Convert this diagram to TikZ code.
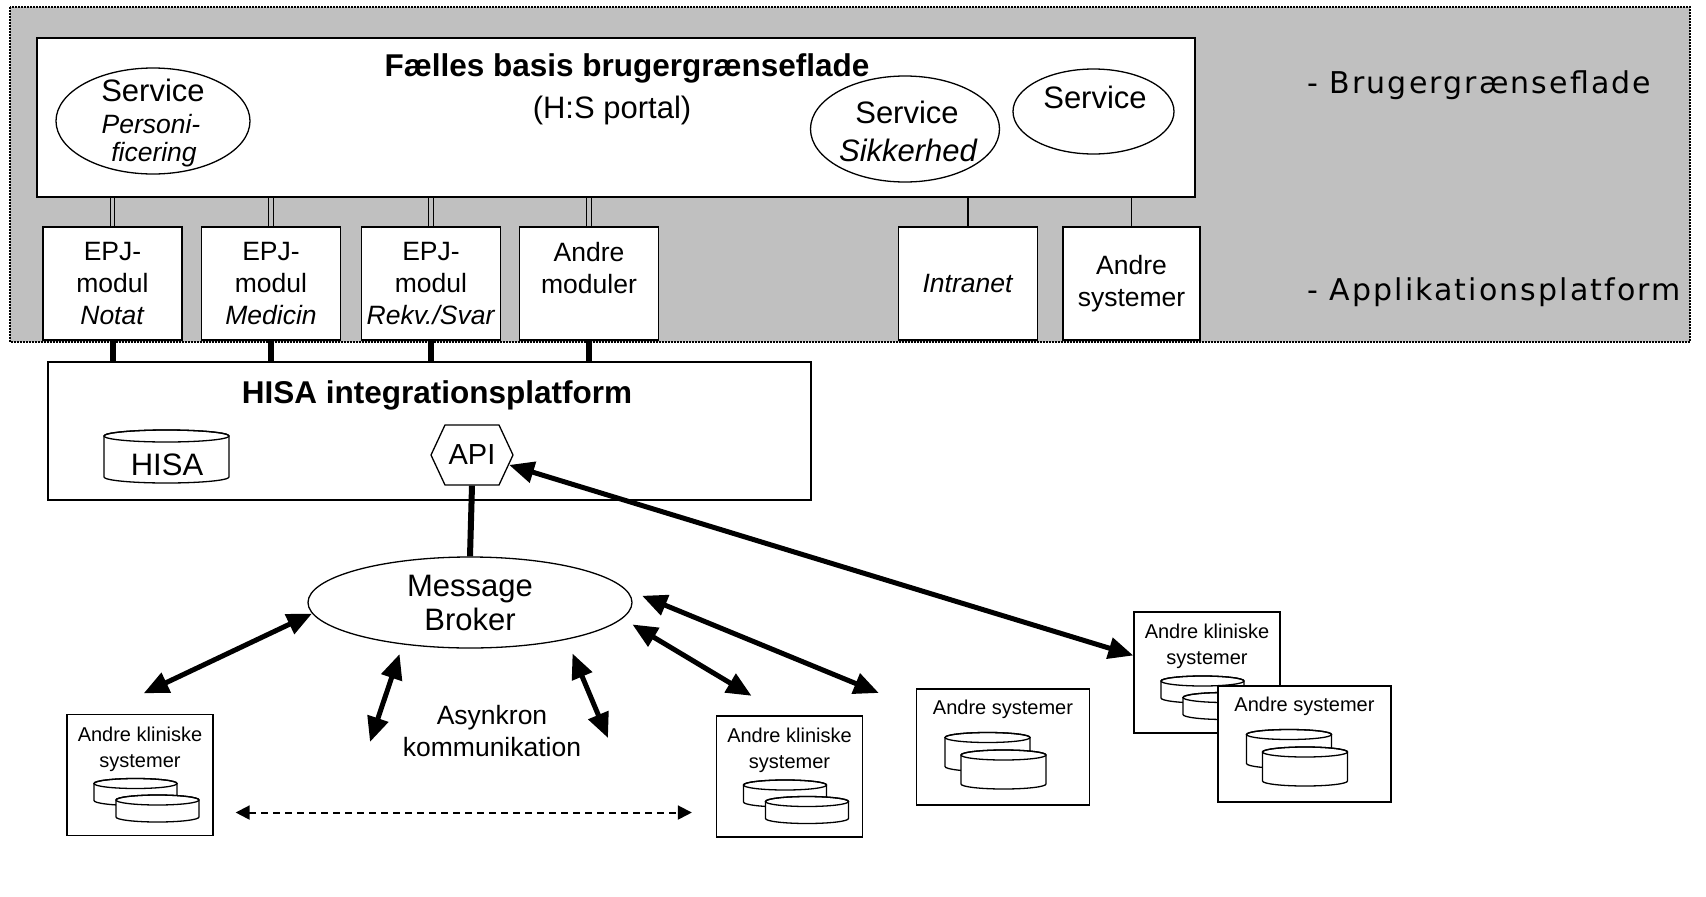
\documentclass[tikz,border=0pt]{standalone}
\usepackage{fontspec}
\setmainfont{Liberation Sans}
\newfontfamily\layerfont[LetterSpace=7]{DejaVu Sans}
\usetikzlibrary{arrows.meta,shapes.geometric,shapes.symbols}
\definecolor{bandgray}{RGB}{192,192,192}

\tikzset{
	fhdr/.style={font=\fontsize{31.5}{37}\selectfont\bfseries},
	fbig/.style={font=\fontsize{31}{34}\selectfont},
	fbigit/.style={font=\fontsize{31}{34}\selectfont\itshape},
	fmid/.style={font=\fontsize{26.5}{32}\selectfont},
	fmidit/.style={font=\fontsize{26.5}{32}\selectfont\itshape},
	fsmall/.style={font=\fontsize{20}{26}\selectfont},
	layer/.style={font=\layerfont\fontsize{30}{36}\selectfont,anchor=base west,inner sep=0pt},
	svc/.style={draw,ellipse,line width=1.3pt,fill=white,inner sep=0pt},
	modbox/.style={draw,line width=1.5pt,fill=white,minimum width=139pt,minimum height=113pt,inner sep=0pt,align=center,fmid},
	sysbox/.style={draw,line width=1.3pt,fill=white,inner sep=0pt},
	dbl/.style={double=bandgray,line width=1.2pt,double distance=3.5pt},
	link/.style={line width=1.3pt},
	bus/.style={line width=6pt},
	bigarr/.style={line width=5pt,{Triangle[length=25pt,width=21pt]}-{Triangle[length=25pt,width=21pt]}},
	dasharr/.style={line width=2pt,dash pattern=on 7pt off 5pt,{Triangle[length=14pt,width=14pt]}-{Triangle[length=14pt,width=14pt]}},
	pics/drum/.style n args={3}{code={
		\draw[fill=white,line width=1.3pt] (-#1/2,-#2/2+#3) -- (-#1/2,#2/2-#3)
			arc[start angle=180,end angle=0,x radius=#1/2,y radius=#3] -- (#1/2,-#2/2+#3)
			arc[start angle=0,end angle=-180,x radius=#1/2,y radius=#3] -- cycle;
		\draw[line width=1.3pt] (0,-#2/2+#3) ellipse[x radius=#1/2,y radius=#3];
	}},
}

\begin{document}
\begin{tikzpicture}[x=1pt,y=-1pt]
	\useasboundingbox (0,0) rectangle (1706,897);
	%
	\fill[bandgray] (10,7) rectangle (1690,342);
	\draw[densely dotted,line width=2pt] (10,7) rectangle (1690,342);
	\node[layer] (lbrug) at (1307,93) {- Brugergrænseflade};
	\node[layer] (lapp) at (1307,300) {- Applikationsplatform};
	%
	\node[draw,line width=1.5pt,fill=white,minimum width=1158pt,minimum height=159pt] (portal) at (616,117.5) {};
	\node[fhdr,anchor=base] (portalhdr) at (627,76) {Fælles basis brugergrænseflade};
	\node[fbig,anchor=base] (portalsub) at (612,118) {(H:S portal)};
	\node[svc,minimum width=194pt,minimum height=106pt] (pers) at (153,121) {};
	\node[fbig,anchor=base] (pers1) at (153,101) {Service};
	\node[fmidit,anchor=base] (pers2) at (151,133) {Personi-};
	\node[fmidit,anchor=base] (pers3) at (154,161) {ficering};
	\node[svc,minimum width=189pt,minimum height=106pt] (sikk) at (905,129) {};
	\node[fbig,anchor=base] (sikk1) at (907,123) {Service};
	\node[fbigit,anchor=base] (sikk2) at (908,161) {Sikkerhed};
	\node[svc,minimum width=161pt,minimum height=85pt] (svc3) at (1093.5,111.5) {};
	\node[fbig,anchor=base] (svc3txt) at (1095,108) {Service};
	%
	\node[modbox] (notat) at (112.5,283.5) {EPJ-\\modul\\\textit{Notat}};
	\node[modbox] (medicin) at (271,283.5) {EPJ-\\modul\\\textit{Medicin}};
	\node[modbox] (rekv) at (431,283.5) {EPJ-\\modul\\\textit{Rekv./Svar}};
	\node[modbox] (andremod) at (589,283.5) {Andre\\moduler\\\mbox{}};
	\node[modbox] (intranet) at (968,283.5) {\textit{Intranet}};
	\node[modbox,minimum width=137pt] (andresys) at (1131.5,283.5) {Andre\\systemer};
	\foreach \m in {notat,medicin,rekv,andremod}
		\draw[dbl] (\m.north) -- (\m.north |- portal.south);
	\foreach \m in {intranet,andresys}
		\draw[link] (\m.north) -- (\m.north |- portal.south);
	%
	\node[draw,line width=1.5pt,fill=white,minimum width=763pt,minimum height=138pt] (hisa) at (429.5,431) {};
	\node[fhdr,anchor=base] (hisahdr) at (437,403) {HISA integrationsplatform};
	\pic at (166.5,456.5) {drum={125}{53}{6}};
	\node[fbig,anchor=base] (hisadb) at (167,475) {HISA};
	\node[draw,line width=1.3pt,fill=white,signal,signal to=west and east,signal pointer angle=130,
		minimum width=82pt,minimum height=60pt,inner sep=0pt,font=\fontsize{29}{34}\selectfont] (api) at (472,455) {API};
	\foreach \m in {notat,medicin,rekv,andremod}
		\draw[bus] (\m.south) -- (\m.south |- hisa.north);
	%
	\node[svc,minimum width=324pt,minimum height=91pt,fbig,align=center] (broker) at (470,602.5) {Message\\Broker};
	\draw[bus] (api.south) -- (broker.north);
	\node[fmid,align=center] (async) at (492,731) {Asynkron\\kommunikation};
	%
	\foreach \k/\cx/\cy in {klin1/140/775,klin2/789.5/776.5,klin3/1207/672.5}{
		\node[sysbox,minimum width=146pt,minimum height=121pt] (\k) at (\cx,\cy) {};
		\node[fsmall,align=center] (\k-txt) at ([yshift=26pt]\k.center) {Andre kliniske\\systemer};
		\pic at ([shift={(-4.5,17)}]\k.center) {drum={83}{27}{5}};
		\pic at ([shift={(17.5,33.5)}]\k.center) {drum={83}{27}{5}};
	}
	\foreach \s/\cx/\cy in {sys1/1003/747,sys2/1304.5/744}{
		\node[sysbox,minimum width=173pt,minimum height=116pt] (\s) at (\cx,\cy) {};
		\node[fsmall] (\s-txt) at ([yshift=38pt]\s.center) {Andre systemer};
		\pic at ([shift={(-15.5,5)}]\s.center) {drum={85}{39}{5}};
		\pic at ([shift={(0.5,22.5)}]\s.center) {drum={85}{39}{5}};
	}
	%
	\coordinate (as1) at (370,742);
	\coordinate (as2) at (608,738);
	\draw[bigarr,shorten >=48pt] (broker.184) -- (klin1.123);
	\draw[bigarr,shorten <=10pt] (broker.212) -- (as1);
	\draw[bigarr,shorten <=15pt] (broker.339) -- (as2);
	\draw[bigarr,shorten <=11.5pt,shorten >=38pt] (broker.354) -- (klin2.95);
	\draw[bigarr,shorten <=18pt,shorten >=40pt] (broker.5) -- (sys1.156);
	\draw[bigarr] (api.345) -- (klin3.167);
	\draw[dasharr,shorten <=22pt,shorten >=24pt] (klin1.333) -- (klin1.333 -| klin2.west);
\end{tikzpicture}
\end{document}
